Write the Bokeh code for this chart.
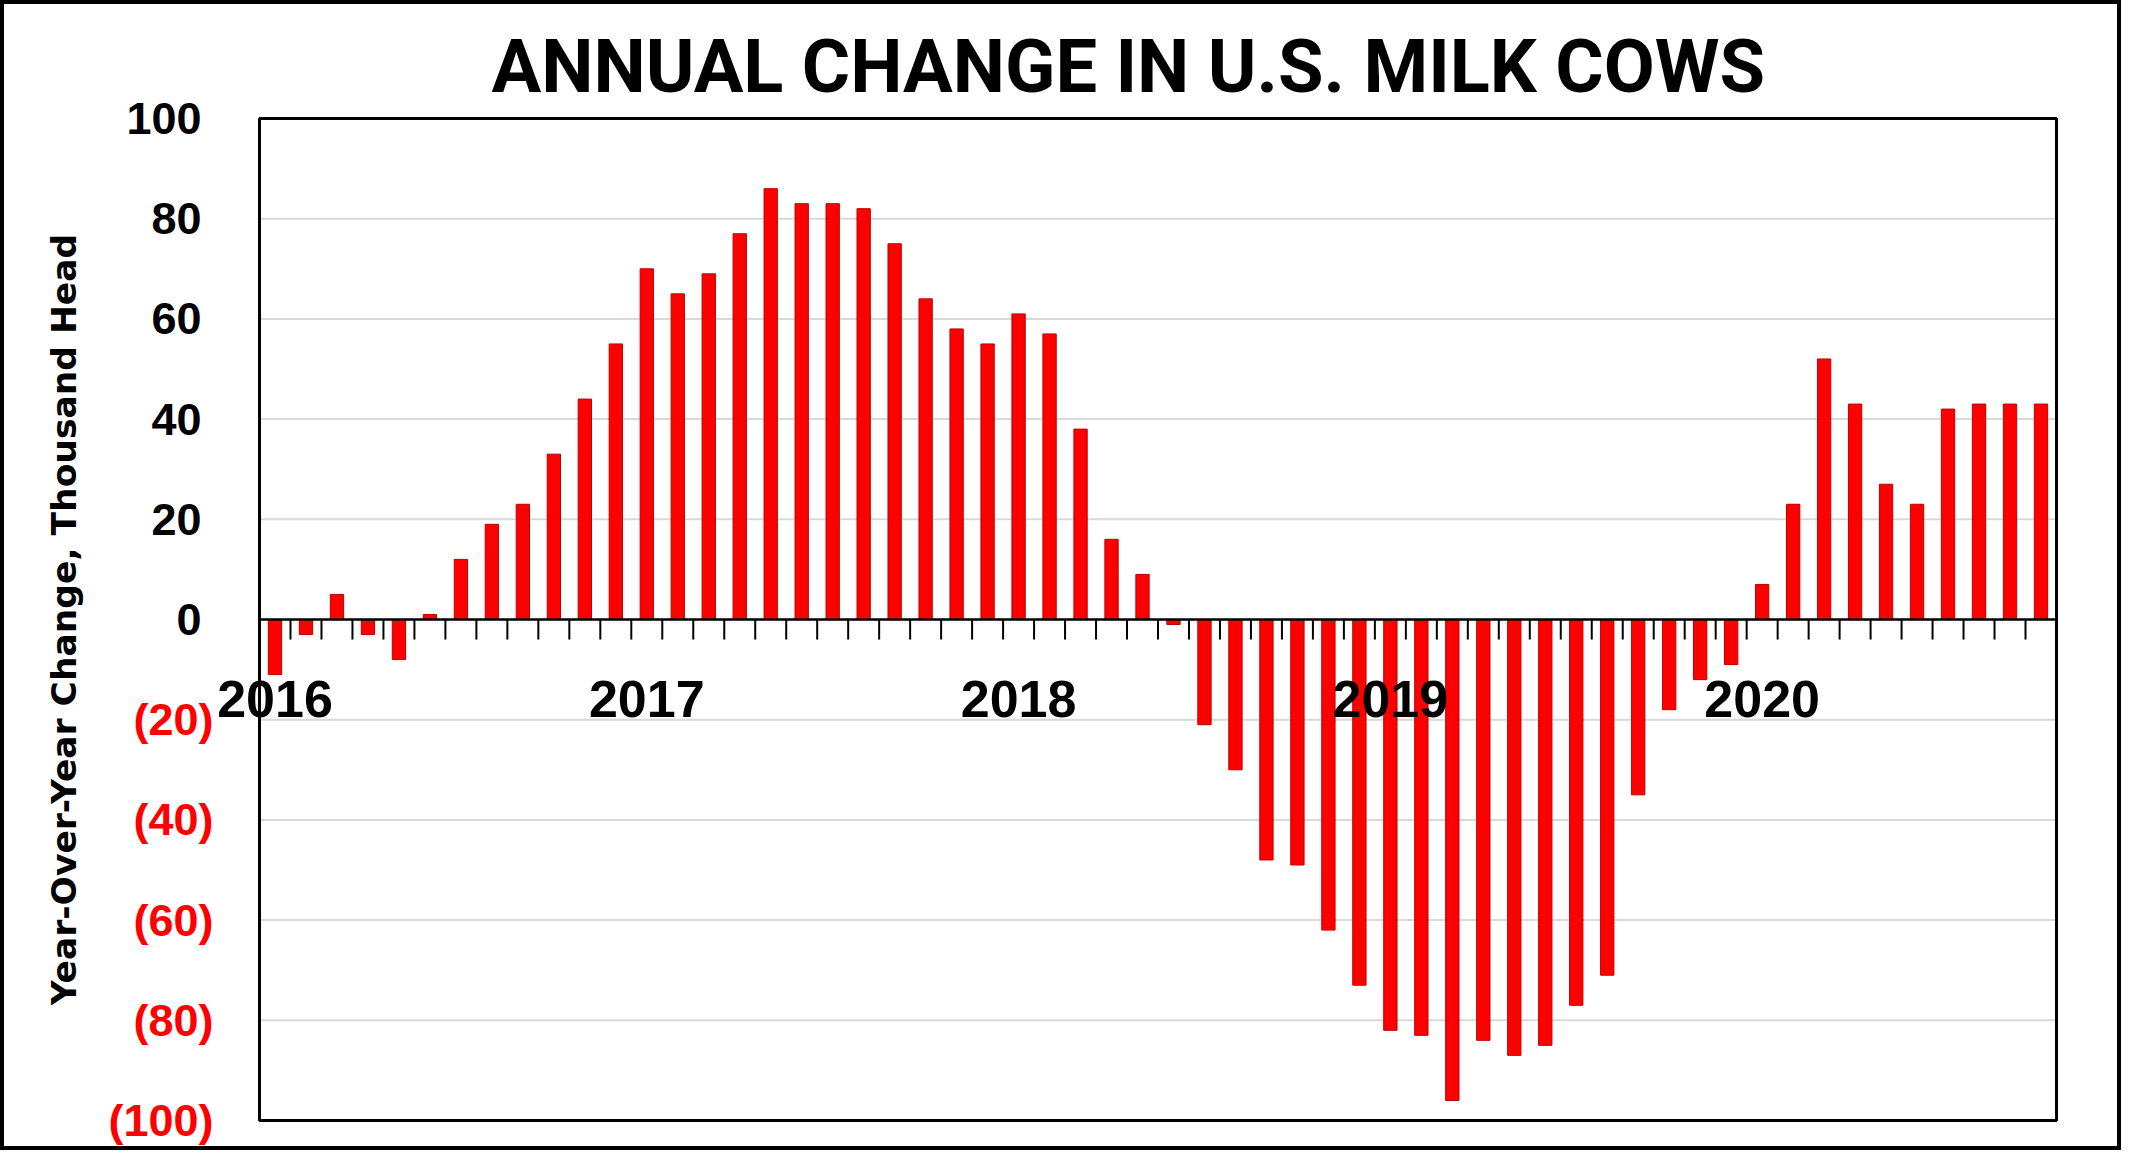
import math
from bokeh.plotting import figure
from bokeh.models import Range1d, FixedTicker, LinearAxis, ColumnDataSource
from bokeh.core.properties import value
from bokeh.embed import file_html
from bokeh.resources import INLINE

# ---- data ----
years = [2016, 2017, 2018, 2019, 2020]
months = [f"{y}-{m:02d}" for y in years for m in range(1, 13)][:58]
change = [-11, -3, 5, -3, -8, 1, 12, 19, 23, 33, 44, 55,
          70, 65, 69, 77, 86, 83, 83, 82, 75, 64, 58, 55,
          61, 57, 38, 16, 9, -1, -21, -30, -48, -49, -62, -73,
          -82, -83, -96, -84, -87, -85, -77, -71, -35, -18, -12, -9,
          7, 23, 52, 43, 27, 23, 42, 43, 43, 43]
year_labels = ["2016", "2017", "2018", "2019", "2020"]
pos_ticks = [0, 20, 40, 60, 80, 100]
neg_ticks = [-20, -40, -60, -80, -100]
grid_ticks = [-80, -60, -40, -20, 20, 40, 60, 80]
title_text = "ANNUAL CHANGE IN U.S. MILK COWS"
ylabel_text = "Year-Over-Year Change, Thousand Head"

n = len(months)
idx = list(range(n))
x_lo, x_hi = -0.5, n - 0.5
y_lo, y_hi = -100, 100

W, H = 2121, 1150
p = figure(width=W, height=H, output_backend="svg", toolbar_location=None,
           x_range=Range1d(-1.985, 57.565), y_range=Range1d(-100.4, 100.4),
           x_axis_type=None, min_border_left=209, min_border_right=67,
           min_border_top=112, min_border_bottom=32)
p.styles = {"border": "4px solid black"}
p.background_fill_color = "white"
p.border_fill_color = "white"
p.outline_line_color = None
p.xgrid.visible = False
p.ygrid.visible = False

# title
p.title.text = title_text
p.title.align = "left"
p.title.offset = 278
p.title.standoff = 14
p.title.text_font = "Roboto"
p.title.text_font_style = "bold"
p.title.text_font_size = "74px"
p.title.text_color = "black"

# y axis with positive labels (black)
ax = p.yaxis[0]
ax.ticker = FixedTicker(ticks=pos_ticks)
ax.axis_line_color = None
ax.major_tick_line_color = None
ax.minor_tick_line_color = None
ax.major_tick_out = 0
ax.major_tick_in = 0
ax.major_label_standoff = 12
ax.major_label_text_font = "Liberation Sans"
ax.major_label_text_font_style = "bold"
ax.major_label_text_font_size = "45px"
ax.major_label_text_color = "black"

# second y axis with negative labels in red, parentheses, plus the axis title
ax2 = LinearAxis(ticker=FixedTicker(ticks=neg_ticks),
                 major_label_overrides={t: f"({abs(t)})" for t in neg_ticks})
ax2.axis_line_color = None
ax2.major_tick_line_color = None
ax2.minor_tick_line_color = None
ax2.major_tick_out = 0
ax2.major_tick_in = 0
ax2.major_label_standoff = -90
ax2.major_label_text_font = "Liberation Sans"
ax2.major_label_text_font_style = "bold"
ax2.major_label_text_font_size = "45px"
ax2.major_label_text_color = "#FF0000"
ax2.axis_label = ylabel_text
ax2.axis_label_standoff = 21
ax2.axis_label_text_font = "DejaVu Sans"
ax2.axis_label_text_font_style = "bold"
ax2.axis_label_text_font_size = "34.5px"
ax2.axis_label_text_color = "black"
p.add_layout(ax2, "left")

# gridlines inside the plot box
p.segment(x0=[x_lo] * len(grid_ticks), y0=grid_ticks, x1=[x_hi] * len(grid_ticks), y1=grid_ticks,
          line_color="#D9D9D9", line_width=2)

# bars
src = ColumnDataSource(dict(x=idx, top=change))
p.vbar(x="x", top="top", bottom=0, width=0.43, source=src,
       fill_color="#FF0000", line_color="#C00000", line_width=1)

# zero axis line with ticks between months
p.segment(x0=[x_lo], y0=[0], x1=[x_hi], y1=[0], line_color="black", line_width=2.5)
bounds = [i - 0.5 for i in range(1, n)]
p.segment(x0=bounds, y0=[0] * len(bounds), x1=bounds, y1=[-4] * len(bounds),
          line_color="black", line_width=2)

# year labels along zero axis
ysrc = ColumnDataSource(dict(x=[12 * i for i in range(len(year_labels))],
                             y=[-15.8] * len(year_labels), t=year_labels))
p.text(x="x", y="y", text="t", source=ysrc, text_font=value("Liberation Sans"),
       text_font_style="bold", text_font_size="52px", text_color="black",
       text_align="center", text_baseline="alphabetic")

# plot box border
p.quad(left=[x_lo], right=[x_hi], bottom=[y_lo], top=[y_hi], fill_color=None,
       line_color="black", line_width=3)

open("out.html", "w").write(file_html(p, INLINE))
